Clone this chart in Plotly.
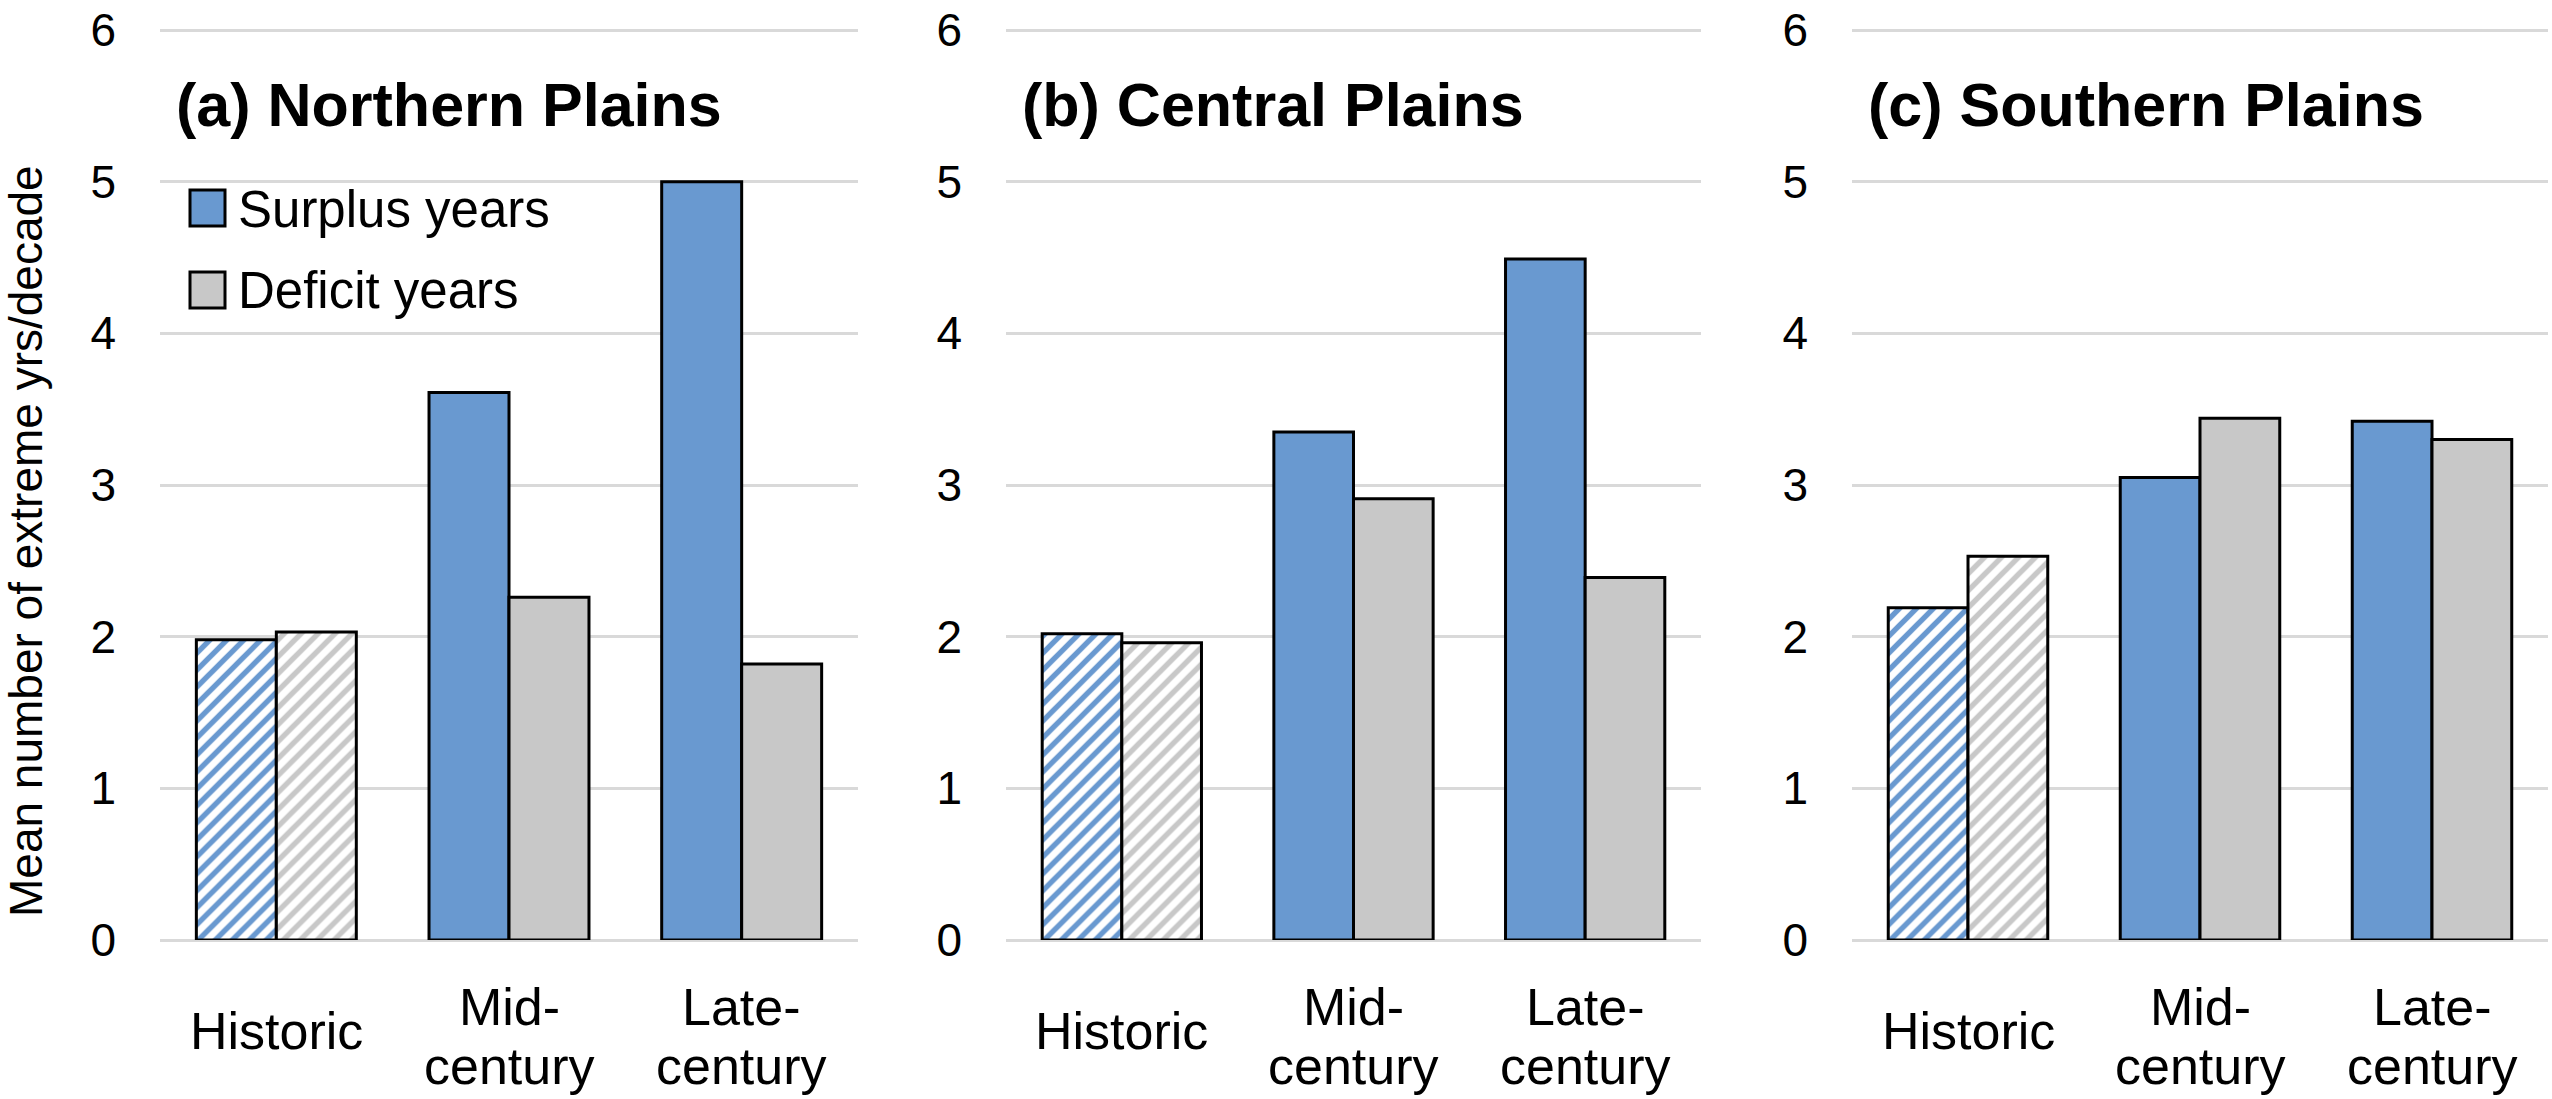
import plotly.graph_objects as go

# ---------------- data ----------------
CATEGORIES = ["Historic", "Mid-century", "Late-century"]
CAT_LABEL_LINES = [["Historic"], ["Mid-", "century"], ["Late-", "century"]]
REGION_TITLES = ["(a) Northern Plains", "(b) Central Plains", "(c) Southern Plains"]
SERIES_NAMES = ["Surplus years", "Deficit years"]

SURPLUS_NORTH = [1.98, 3.61, 5.00]
DEFICIT_NORTH = [2.03, 2.26, 1.82]
SURPLUS_CENTRAL = [2.02, 3.35, 4.49]
DEFICIT_CENTRAL = [1.96, 2.91, 2.39]
SURPLUS_SOUTH = [2.19, 3.05, 3.42]
DEFICIT_SOUTH = [2.53, 3.44, 3.30]

HATCHED = ["/", "", ""]          # historic period drawn hatched
Y_TICKS = [0, 1, 2, 3, 4, 5, 6]
Y_TITLE = "Mean number of extreme yrs/decade"

SURPLUS = [SURPLUS_NORTH, SURPLUS_CENTRAL, SURPLUS_SOUTH]
DEFICIT = [DEFICIT_NORTH, DEFICIT_CENTRAL, DEFICIT_SOUTH]

# ---------------- style ----------------
W, H = 2552, 1099
FONT = "Liberation Sans, Arial, Helvetica, sans-serif"
BLUE = "#6999D0"
GRAY = "#C8C8C8"
GRID = "#D9D9D9"

def px_x(px):
    return px / W

def px_y(py):
    return 1 - py / H

X_DOMAINS = [(160, 858), (1006, 1701), (1852, 2548)]
Y_BOTTOM, Y_TOP = 940, 28
Y_MAX = 6 + (30 - 28) / ((940 - 30) / 6)

fig = go.Figure()

for i in range(3):
    ax = "" if i == 0 else str(i + 1)
    for name, vals, col in [(SERIES_NAMES[0], SURPLUS[i], BLUE),
                            (SERIES_NAMES[1], DEFICIT[i], GRAY)]:
        fig.add_trace(go.Bar(
            x=CATEGORIES, y=vals, name=name,
            xaxis="x" + ax, yaxis="y" + ax,
            marker=dict(
                color=col,
                line=dict(color="black", width=3),
                pattern=dict(shape=HATCHED, fgcolor=col, bgcolor="white",
                             size=12, solidity=0.45, fillmode="replace"),
            ),
            showlegend=False,
        ))

    d0, d1 = X_DOMAINS[i]
    fig.layout["xaxis" + ax] = dict(
        domain=[px_x(d0), px_x(d1)], anchor="y" + ax,
        showticklabels=False, showgrid=False, zeroline=False, showline=False,
        ticks="", fixedrange=True,
    )
    fig.layout["yaxis" + ax] = dict(
        domain=[px_y(Y_BOTTOM), px_y(Y_TOP)], anchor="x" + ax,
        range=[0, Y_MAX], tickvals=Y_TICKS, ticktext=[str(t) for t in Y_TICKS],
        tickfont=dict(size=46, color="black", family=FONT),
        showgrid=True, gridcolor=GRID, gridwidth=3,
        zeroline=True, zerolinecolor=GRID, zerolinewidth=3,
        showline=False, ticks="", ticklabelstandoff=43,
        ticklabeloverflow="allow",
    )

    fig.add_annotation(
        text="<b>" + REGION_TITLES[i] + "</b>",
        xref="x" + ax + " domain", yref="paper",
        x=0.02, y=px_y(105), xanchor="left", yanchor="middle",
        showarrow=False, font=dict(size=61, color="black", family=FONT),
    )

    for cat, lines in zip(CATEGORIES, CAT_LABEL_LINES):
        ys = [1031] if len(lines) == 1 else [1007, 1066]
        for line, yy in zip(lines, ys):
            fig.add_annotation(
                text=line, xref="x" + ax, yref="paper",
                x=cat, y=px_y(yy), xanchor="center", yanchor="middle",
                showarrow=False, font=dict(size=52, color="black", family=FONT),
            )

legend_rows = [(SERIES_NAMES[0], BLUE, 190, 226), (SERIES_NAMES[1], GRAY, 272, 308)]
for name, col, ytop, ybot in legend_rows:
    fig.add_shape(type="rect", xref="paper", yref="paper",
                  x0=px_x(190), x1=px_x(225), y0=px_y(ybot), y1=px_y(ytop),
                  fillcolor=col, line=dict(color="black", width=3))
    fig.add_annotation(text=name, xref="paper", yref="paper",
                       x=px_x(236), y=px_y((ytop + ybot) / 2 + 1),
                       xanchor="left", yanchor="middle", showarrow=False,
                       font=dict(size=51, color="black", family=FONT))

fig.add_annotation(text=Y_TITLE, xref="paper", yref="paper",
                   x=px_x(26), y=px_y(541), textangle=-90,
                   xanchor="center", yanchor="middle", showarrow=False,
                   font=dict(size=46, color="black", family=FONT))

fig.update_layout(
    width=W, height=H,
    margin=dict(l=0, r=0, t=0, b=0, autoexpand=False),
    paper_bgcolor="white", plot_bgcolor="white",
    barmode="group", bargap=0.3125, bargroupgap=0,
    showlegend=False,
    font=dict(family=FONT, color="black"),
)

fig.write_html(
    "out.html",
    config={"displayModeBar": False},
    post_script="document.body.style.margin='0px';document.body.style.overflow='hidden';",
)
